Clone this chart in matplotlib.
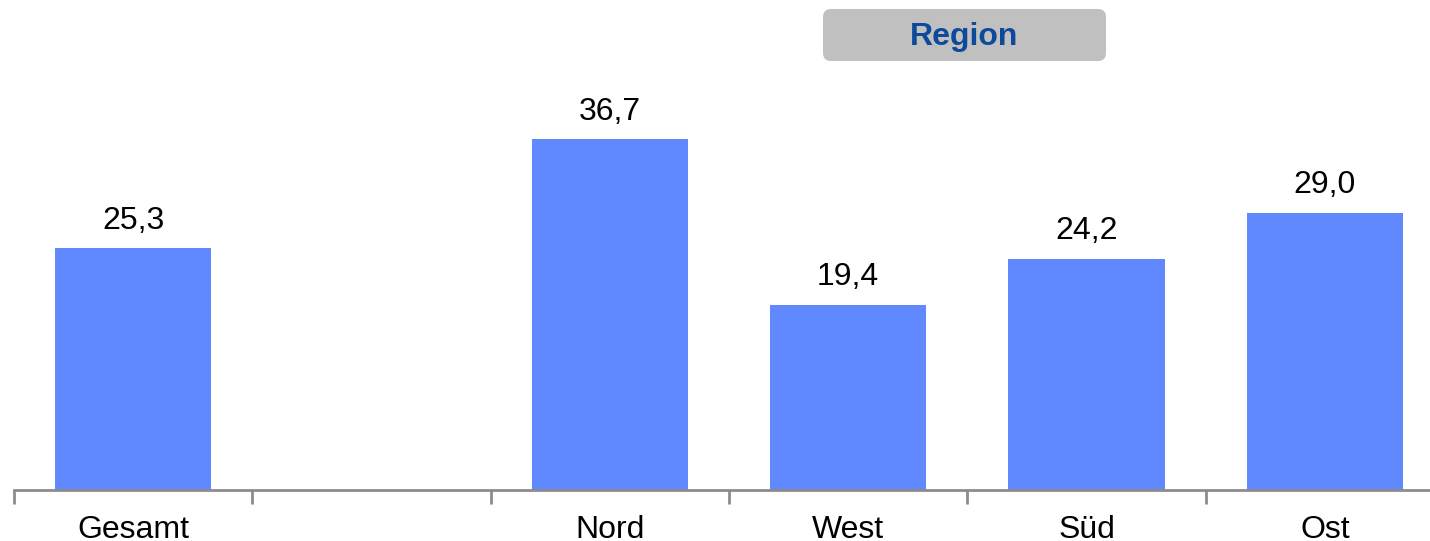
import matplotlib.pyplot as plt
from matplotlib.patches import FancyBboxPatch

plt.rcParams['font.family'] = ['Liberation Sans', 'DejaVu Sans']

# Werte je Kategorie (leerer Platz zwischen Gesamt und den Regionen)
kategorien = ["Gesamt", "", "Nord", "West", "Süd", "Ost"]
werte = [25.3, None, 36.7, 19.4, 24.2, 29.0]

balken_farbe = "#6088FF"
achsen_farbe = "#8C8C8C"

fig = plt.figure(figsize=(14.3, 5.41), dpi=100)
ax = fig.add_axes([14 / 1430, 51 / 541, 1430 / 1430, 478 / 541])

positionen = [i for i, w in enumerate(werte) if w is not None]
hoehen = [w for w in werte if w is not None]
bars = ax.bar(positionen, hoehen, width=0.655, color=balken_farbe, zorder=2)

for b, w in zip(bars, hoehen):
    ax.annotate(f"{w:.1f}".replace(".", ","),
                (b.get_x() + b.get_width() / 2, b.get_height()),
                xytext=(0, 9), textcoords="offset points",
                ha="center", va="bottom", fontsize=23, color="black")

ax.set_xlim(-0.5, len(kategorien) - 0.5)
ax.set_ylim(0, 50)

# Beschriftungen mittig, Striche zwischen den Kategorien
ax.set_xticks(range(len(kategorien)))
ax.set_xticklabels(kategorien, fontsize=23)
ax.tick_params(axis="x", which="major", length=0, pad=18)
ax.set_xticks([i - 0.5 for i in range(len(kategorien) + 1)], minor=True)
ax.tick_params(axis="x", which="minor", length=10, width=2, color=achsen_farbe,
               direction="out")

ax.set_yticks([])
for s in ["top", "right", "left"]:
    ax.spines[s].set_visible(False)
ax.spines["bottom"].set_color(achsen_farbe)
ax.spines["bottom"].set_linewidth(2)

# Kopfzeile "Region" über den Regionen
kasten = FancyBboxPatch((8.23, 4.80), 2.83, 0.52,
                        boxstyle="round,pad=0,rounding_size=0.08",
                        transform=fig.dpi_scale_trans,
                        facecolor="#C0C0C0", edgecolor="none")
fig.patches.append(kasten)
fig.text(9.645 / 14.3, 5.04 / 5.41, "Region", ha="center", va="center",
         fontsize=23, fontweight="bold", color="#0D4A9C")

fig.savefig("out.png", dpi=100)
